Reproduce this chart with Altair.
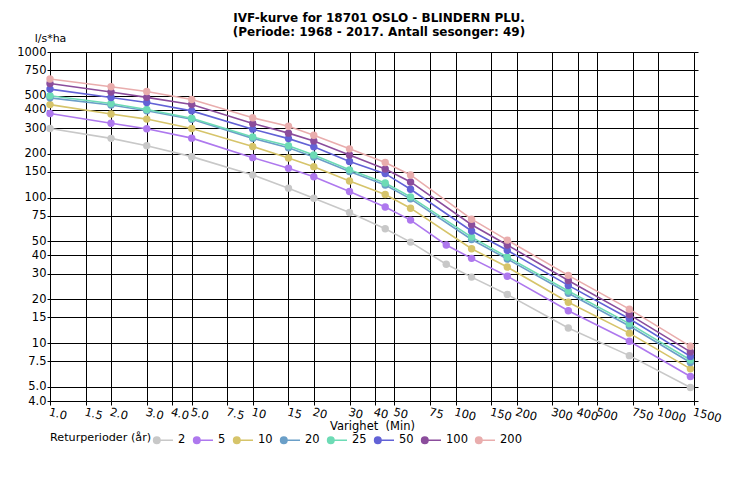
import altair as alt
import pandas as pd

durations = [1, 2, 3, 5, 10, 15, 20, 30, 45, 60, 90, 120, 180, 360, 720, 1440]

periods = ["2", "5", "10", "20", "25", "50", "100", "200"]
colors = ["#C8C8C8", "#AE78EE", "#D6C46A", "#6A9FC8", "#6DDBB5", "#6262D6", "#8B4D9C", "#E9ADAD"]

v2   = [298, 255, 227, 191, 143, 116, 99, 79, 61, 49.4, 34.8, 28.4, 21.6, 12.7, 8.2, 4.95]
v5   = [378, 324, 297, 256, 188, 159, 139, 110, 86, 70, 47.2, 38.2, 28.8, 16.7, 10.3, 5.9]
v10  = [435, 375, 346, 298, 224, 187, 163, 130, 105, 84.5, None, 44.5, 33.3, 19.1, 11.7, 6.65]
v20  = [484, 432, 395, 345, 255, 220, 190, 151, 122, 98, None, 51.5, 37.8, 22.0, 13.1, 7.35]
v25  = [500, 443, 403, 351, 261, 227, 196, 155, 126, 101, None, 53.5, 39.0, 22.8, 13.6, 7.65]
v50  = [556, 487, 450, 394, 295, 254, 223, 177, 146, 114, None, 58.9, 43.4, 24.9, 14.7, 8.1]
v100 = [608, 531, 488, 436, 323, 277, 245, 196, 157, 128, None, 65, 47.2, 26.9, 15.7, 8.7]
v200 = [652, 577, 535, 472, 353, 309, 268, 216, 174, 143, None, 71, 51, 29.2, 17.1, 9.5]

series = [v2, v5, v10, v20, v25, v50, v100, v200]

x_ticks = [1, 1.5, 2, 3, 4, 5, 7.5, 10, 15, 20, 30, 40, 50, 75, 100, 150, 200, 300, 400, 500, 750, 1000, 1500]
y_ticks = [4, 5, 7.5, 10, 15, 20, 30, 40, 50, 75, 100, 150, 200, 300, 400, 500, 750, 1000]

rows = []
for p, vals in zip(periods, series):
    for i, (d, v) in enumerate(zip(durations, vals)):
        if v is not None:
            rows.append({"Varighet": d, "Intensitet": v, "Periode": p, "order": i})
df = pd.DataFrame(rows)

FONT = "DejaVu Sans"
label_expr = "datum.value < 10 ? format(datum.value, '.1f') : format(datum.value, 'd')"

xscale = alt.Scale(type="log", domain=[1, 1500], nice=False)
yscale = alt.Scale(type="log", domain=[4, 1000], nice=False)
cscale = alt.Scale(domain=periods, range=colors)

xaxis = alt.Axis(
    values=x_ticks, labelExpr=label_expr, grid=True, gridColor="#000000", gridOpacity=1,
    gridWidth=1, domainColor="#000000", tickColor="#000000", tickSize=4,
    labelAngle=15, labelAlign="left", labelBaseline="top", labelPadding=1,
    labelFont=FONT, labelFontSize=11.5, labelColor="#000000", labelOverlap=False,
    title="Varighet \u00a0(Min)", titleFont=FONT, titleFontSize=11.5, titleFontWeight="normal",
    titleColor="#000000", titleY=25, titleBaseline="middle",
)
yaxis = alt.Axis(
    values=y_ticks, labelExpr=label_expr, grid=True, gridColor="#000000", gridOpacity=1,
    gridWidth=1, domainColor="#000000", tickColor="#000000", tickSize=3,
    labelFont=FONT, labelFontSize=11.5, labelColor="#000000", labelPadding=1, labelOverlap=False,
    title="l/s*ha", titleFont=FONT, titleFontSize=11, titleFontWeight="normal", titleColor="#000000",
    titleAngle=0, titleX=0, titleY=-14, titleAlign="center", titleBaseline="middle",
)
yaxis_right = alt.Axis(
    orient="right", values=y_ticks, labels=False, grid=False, domain=False,
    tickColor="#000000", tickSize=4, title=None,
)

sym = ("M-0.94,0 A0.32,0.32 0 1,0 -0.30,0 A0.32,0.32 0 1,0 -0.94,0 "
       "M-0.80,0 A0.18,0.18 0 1,0 -0.44,0 A0.18,0.18 0 1,0 -0.80,0 "
       "M-0.67,0 A0.05,0.05 0 1,0 -0.57,0 A0.05,0.05 0 1,0 -0.67,0 "
       "M-0.62,0 L1,0")

legend = alt.Legend(
    title="Returperioder (\u00e5r)", orient="none", legendX=0, legendY=377, direction="horizontal",
    titleOrient="left", titleFont=FONT, titleFontSize=11.2, titleFontWeight="normal", titleColor="#000000",
    titlePadding=0, labelFont=FONT, labelFontSize=11.5, labelColor="#000000", labelOffset=4,
    symbolType=sym, symbolSize=400, symbolStrokeWidth=1.6, columnPadding=4, columns=8,
)

base = alt.Chart(df)

lines = base.mark_line(strokeWidth=1.6).encode(
    x=alt.X("Varighet:Q", scale=xscale, axis=xaxis),
    y=alt.Y("Intensitet:Q", scale=yscale, axis=yaxis),
    color=alt.Color("Periode:N", scale=cscale, sort=periods, legend=legend),
    order="order:Q",
)

points = base.mark_circle(size=55, opacity=1).encode(
    x=alt.X("Varighet:Q", scale=xscale, axis=xaxis),
    y=alt.Y("Intensitet:Q", scale=yscale, axis=None),
    color=alt.Color("Periode:N", scale=cscale, sort=periods, legend=None),
)

right_ticks = alt.Chart(pd.DataFrame({"v": [4]})).mark_rule(opacity=0).encode(
    y=alt.Y("v:Q", scale=yscale, axis=yaxis_right),
)

chart = alt.layer(lines, points, right_ticks).resolve_axis(y="independent").properties(
    width=644,
    height=349,
    title=alt.TitleParams(
        text=["IVF-kurve for 18701 OSLO - BLINDERN PLU.", "(Periode: 1968 - 2017. Antall sesonger: 49)"],
        font=FONT, fontSize=12, fontWeight="bold", color="#000000", anchor="middle",
        offset=15, lineHeight=14, dx=7, dy=22,
    ),
    autosize=alt.AutoSizeParams(type="none"),
    padding={"left": 50, "top": 52, "right": 46, "bottom": 86},
).configure_view(stroke=None).configure(background="#ffffff")

chart.save("out.html", embed_options={"renderer": "svg", "actions": False})
